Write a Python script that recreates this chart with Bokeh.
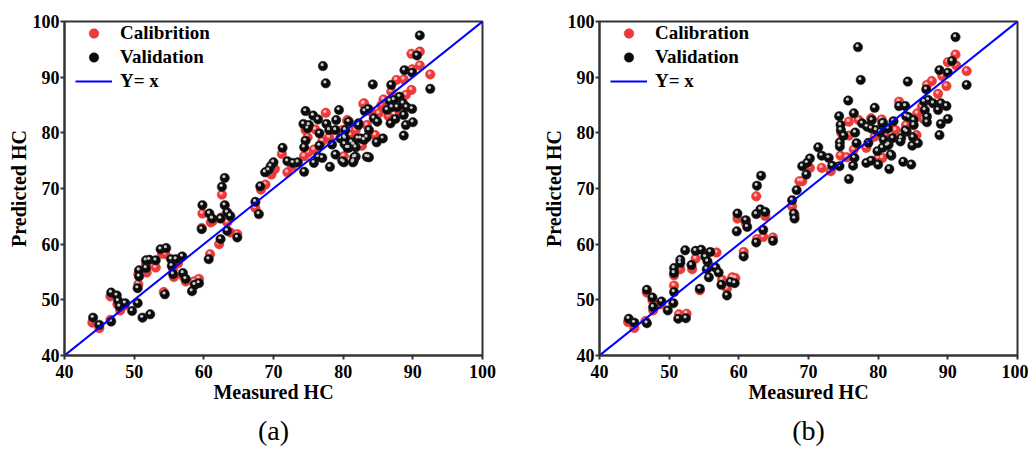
from bokeh.plotting import figure
from bokeh.layouts import row
from bokeh.models import Legend, LegendItem, Title, ColumnDataSource, FixedTicker
from bokeh.transform import dodge
from bokeh.embed import file_html
from bokeh.resources import INLINE

# ---------------- data ----------------
tick_values = [40, 50, 60, 70, 80, 90, 100]
line_x = [40, 100]
line_y = [40, 100]

# Panel (a)
a_val_x = [44.1, 45.0, 46.7, 46.7, 47.5, 47.7, 47.9, 48.7, 49.7, 50.5, 51.2, 52.3, 54.4, 50.5, 50.7,
           50.7, 51.7, 51.7, 52.2, 53.1, 53.8, 54.6, 55.3, 56.0, 56.9, 55.4, 55.6, 57.0, 57.4, 58.3,
           58.7, 59.3, 59.8, 59.7, 60.8, 61.2, 62.4, 63.0, 62.6, 63.0, 63.35, 63.8, 63.35, 62.4, 60.7,
           64.8, 67.9, 67.4, 68.1,
           77.1, 77.5, 74.6, 75.7, 76.4, 74.3, 75.1, 74.9, 77.6, 78.0, 79.0, 79.4, 78.9, 76.6, 74.4,
           74.6, 76.6, 78.4, 79.6, 80.2, 80.2, 80.8, 81.8, 81.2, 82.1, 83.0, 82.2, 80.8, 83.1, 83.6,
           75.8, 76.4, 77.0, 78.9, 78.1, 79.9, 81.5, 81.8, 83.4, 71.3, 72.0, 72.8, 73.5, 74.4, 70.0,
           69.6, 69.3, 68.8,
           91.0, 90.6, 88.8, 89.9, 84.25, 86.9, 92.5, 88.1, 86.7, 87.3, 88.6, 89.1, 89.9, 86.3, 87.0,
           87.75, 88.7, 87.5, 86.8, 89.0, 90.0, 88.7, 84.4, 84.9, 80.3, 82.2, 83.7, 82.5, 83.4, 84.8,
           85.7, 80.3, 81.5, 80.6, 81.6, 83.7, 80.1, 81.4]
a_val_y = [46.8, 45.5, 46.1, 51.3, 50.8, 49.8, 48.8, 49.4, 48.0, 49.4, 46.8, 47.4, 51.0, 52.1, 54.2,
           55.3, 55.7, 57.1, 57.2, 57.1, 59.1, 59.3, 57.3, 57.3, 57.8, 56.1, 54.6, 54.8, 53.75, 51.55,
           52.7, 53.0, 67.0, 62.7, 65.5, 64.6, 64.6, 71.9, 70.3, 67.0, 65.7, 65.05, 62.4, 60.9, 57.3,
           61.2, 65.4, 67.6, 70.4,
           92.0, 88.9, 83.9, 83.1, 82.4, 81.6, 81.4, 80.8, 81.6, 80.5, 82.3, 84.1, 80.5, 79.9, 77.4,
           78.6, 77.7, 77.9, 79.0, 79.2, 78.0, 77.3, 77.4, 78.3, 79.0, 78.75, 81.4, 82.0, 83.9, 84.3,
           74.6, 75.7, 75.5, 76.1, 73.9, 74.9, 74.9, 75.7, 75.7, 77.3, 74.9, 74.6, 74.7, 73.0, 74.7,
           74.0, 73.3, 72.9,
           97.5, 93.9, 91.25, 90.8, 88.7, 88.6, 87.9, 86.5, 85.7, 85.9, 85.3, 84.6, 84.3, 84.1, 84.6,
           84.6, 83.2, 82.5, 81.7, 81.4, 81.9, 79.5, 82.6, 82.0, 80.5, 81.7, 80.5, 79.0, 79.2, 78.3,
           79.0, 79.0, 77.9, 77.3, 75.6, 75.6, 74.7, 74.7]
a_cal_x = [44.0, 45.0, 46.6, 46.6, 47.6, 48.0, 48.6, 50.6, 50.6, 51.8, 51.7, 53.1, 54.5, 54.0, 55.6,
           56.3, 55.7, 57.4, 57.0, 59.3, 58.6, 54.25, 59.8, 59.7, 60.9, 61.0, 61.3, 62.6, 62.2, 63.35,
           63.8, 64.8, 62.5, 67.4, 68.2, 68.85,
           77.5, 80.6, 83.0, 74.6, 74.9, 75.8, 74.4, 71.2, 72.0, 69.7, 70.2, 76.0, 77.0, 79.7, 79.9,
           72.7, 75.0, 78.0,
           89.8, 91.0, 91.0, 92.5, 89.9, 87.65, 88.7, 89.8, 86.9, 89.0, 82.9, 85.5, 85.1, 80.6, 81.05,
           83.4, 80.1, 82.7, 84.6, 86.5, 88.0, 85.8, 84.0, 81.8]
a_cal_y = [45.9, 44.9, 46.4, 50.6, 49.2, 48.1, 49.0, 52.8, 54.6, 54.9, 56.4, 55.8, 58.2, 58.3, 55.6,
           56.55, 54.1, 53.3, 54.3, 53.75, 53.3, 51.4, 65.5, 62.9, 58.2, 63.9, 64.2, 68.9, 60.0, 63.9,
           62.1, 61.8, 64.8, 66.5, 69.8, 70.7,
           83.6, 82.1, 85.3, 80.5, 79.2, 77.0, 75.8, 76.2, 72.9, 72.5, 73.5, 80.6, 78.5, 75.5, 80.5,
           74.0, 76.5, 79.2,
           94.2, 94.6, 92.1, 90.5, 91.4, 89.5, 89.6, 87.7, 87.4, 86.8, 85.2, 85.0, 83.5, 82.3, 79.6,
           81.4, 75.8, 77.7, 79.6, 83.0, 84.0, 86.0, 83.8, 80.5]

# Panel (b)
b_val_x = [44.2, 45.0, 46.8, 46.8, 47.6, 47.7, 48.9, 49.8, 50.6, 50.7, 51.3, 52.4, 54.4, 50.7, 50.7,
           51.6, 51.6, 52.3, 53.2, 53.8, 54.6, 55.2, 55.9, 55.5, 55.4, 56.65, 57.1, 55.7, 57.5, 58.8,
           59.4, 58.3, 59.8, 59.7, 61.0, 61.2, 60.7, 62.5, 62.5, 63.1, 63.8, 62.6, 63.2, 63.5, 64.9,
           67.65, 67.9, 68.0, 68.3,
           77.1, 77.5, 84.25, 75.7, 79.5, 76.5, 74.4, 74.6, 74.65, 75.05, 74.5, 74.5, 76.7, 76.9, 77.7,
           78.4, 79.1, 79.0, 79.7, 80.7, 80.3, 81.4, 82.2, 78.6, 79.9, 80.6, 81.5, 80.8, 82.1, 83.0,
           84.0, 84.1, 83.3, 81.9, 81.6, 83.6, 80.0, 79.0, 78.3, 76.4, 75.8, 76.6, 74.45, 72.9, 71.9,
           71.4, 70.2, 69.8, 69.1, 69.7, 73.4,
           91.1, 90.6, 88.8, 90.0, 92.7, 86.9, 86.6, 87.2, 87.9, 89.0, 89.8, 83.9, 86.7, 88.6, 87.0,
           90.0, 84.4, 85.1, 85.1, 87.0, 89.0, 88.8, 80.6, 83.9, 83.2, 85.0, 85.7, 84.9, 81.3, 81.8,
           84.75]
b_val_y = [46.6, 45.9, 45.8, 51.8, 50.4, 48.7, 49.7, 48.1, 49.4, 51.4, 46.6, 46.7, 52.0, 55.7, 54.8,
           57.2, 56.6, 58.9, 56.25, 58.8, 59.0, 57.7, 58.6, 56.9, 55.5, 55.8, 54.9, 54.05, 52.7, 53.2,
           53.0, 50.8, 65.5, 62.3, 64.3, 63.1, 57.8, 60.3, 65.4, 66.25, 65.8, 70.5, 72.3, 62.55, 60.6,
           67.9, 65.5, 64.6, 69.7,
           95.4, 89.5, 89.2, 85.8, 84.5, 83.5, 83.0, 81.4, 80.5, 79.5, 78.3, 77.55, 80.05, 78.15, 81.7,
           81.1, 82.3, 80.8, 80.5, 81.8, 80.1, 80.8, 82.1, 78.2, 76.7, 77.3, 77.9, 78.75, 79.05, 84.8,
           83.0, 80.2, 79.05, 75.9, 73.5, 74.8, 74.3, 75.0, 74.6, 74.1, 71.7, 75.5, 74.0, 75.5, 75.9,
           77.4, 75.4, 74.6, 74.0, 72.5, 74.1,
           97.2, 92.9, 91.25, 90.8, 88.6, 87.8, 85.6, 85.9, 85.3, 85.3, 84.8, 84.8, 84.1, 84.1, 82.9,
           82.5, 82.8, 82.3, 81.4, 81.9, 81.6, 79.6, 81.7, 80.4, 78.45, 79.2, 78.15, 77.7, 77.7, 76.1,
           74.3]
b_cal_x = [44.1, 45.0, 46.8, 46.6, 47.6, 47.7, 48.8, 50.7, 50.7, 51.4, 52.5, 51.6, 53.8, 53.3, 54.4,
           56.8, 55.9, 57.6, 59.05, 59.5, 58.3, 62.5, 59.8, 60.7, 62.6, 64.9, 63.8, 61.0, 63.5, 67.65,
           68.0, 69.1,
           83.0, 75.8, 77.2, 79.0, 80.5, 74.7, 75.8, 76.5, 78.3, 79.5, 74.6, 75.5, 71.9, 70.2, 68.7,
           80.0, 73.2,
           91.1, 90.0, 91.2, 92.7, 89.2, 89.8, 87.7, 87.0, 88.6, 86.3, 85.6, 84.0, 81.05, 85.5, 80.6,
           82.5, 86.5]
b_cal_y = [46.0, 44.95, 51.3, 46.2, 49.9, 48.1, 49.2, 52.55, 54.4, 47.4, 47.5, 55.5, 57.4, 55.5, 51.7,
           58.5, 56.0, 53.6, 54.05, 53.9, 52.0, 68.6, 64.6, 58.6, 60.9, 61.2, 65.05, 63.8, 61.3, 66.8,
           65.2, 71.3,
           85.6, 82.0, 82.3, 82.6, 82.4, 80.0, 79.5, 77.0, 77.3, 79.3, 75.9, 75.6, 73.7, 73.7, 71.3,
           75.5, 73.1,
           94.05, 92.7, 92.1, 91.1, 90.2, 88.4, 89.3, 88.6, 87.0, 84.7, 83.5, 81.4, 79.3, 79.6, 75.5,
           80.5, 82.5]

FONT = "'Liberation Serif', 'Times New Roman', 'DejaVu Serif', serif"


def make_panel(cal_x, cal_y, val_x, val_y, cal_label, caption, width, bl, br, cap_offset):
    p = figure(width=width, height=453, x_range=(40, 100), y_range=(40, 100),
               output_backend="svg", toolbar_location=None,
               min_border_left=bl, min_border_right=br, min_border_top=21, min_border_bottom=96,
               background_fill_color="white", border_fill_color="white")
    p.grid.visible = False
    p.outline_line_color = "#333333"
    p.outline_line_width = 2

    for ax in (p.xaxis[0], p.yaxis[0]):
        ax.ticker = FixedTicker(ticks=tick_values)
        ax.axis_line_color = "#333333"
        ax.axis_line_width = 2
        ax.major_tick_line_color = "#333333"
        ax.major_tick_line_width = 2
        ax.major_tick_out = 4
        ax.major_tick_in = 0
        ax.minor_tick_out = 0
        ax.minor_tick_in = 0
        ax.major_label_text_font = FONT
        ax.major_label_text_font_style = "bold"
        ax.major_label_text_font_size = "18px"
        ax.major_label_text_color = "black"
        ax.axis_label_text_font = FONT
        ax.axis_label_text_font_style = "bold"
        ax.axis_label_text_font_size = "20px"
        ax.axis_label_text_color = "black"
        ax.axis_label_standoff = 0
    p.xaxis.major_label_standoff = 5
    p.yaxis.major_label_standoff = 1
    p.xaxis.axis_label = "Measured HC"
    p.yaxis.axis_label = "Predicted HC"

    cal = ColumnDataSource(dict(x=cal_x, y=cal_y))
    val = ColumnDataSource(dict(x=val_x, y=val_y))

    r_cal = p.scatter("x", "y", source=cal, size=9.5, fill_color="#f03a3a", line_color="#d82c2c",
                      line_width=0.5)
    p.scatter(x=dodge("x", -0.12), y=dodge("y", 0.25), source=cal, size=3.5,
              fill_color="#ffb4b4", line_color=None)
    r_val = p.scatter("x", "y", source=val, size=9.5, fill_color="#0b0b0b", line_color="#2a2a2a",
                      line_width=0.5)
    p.scatter(x=dodge("x", -0.12), y=dodge("y", 0.25), source=val, size=3.2,
              fill_color="#c8c8c8", line_color=None)
    r_line = p.line(line_x, line_y, line_color="#0000ff", line_width=2)

    legend = Legend(items=[LegendItem(label=cal_label, renderers=[r_cal]),
                           LegendItem(label="Validation", renderers=[r_val]),
                           LegendItem(label="Y= x", renderers=[r_line])],
                    location=(11, 262), padding=0, margin=0, spacing=0,
                    glyph_width=37, glyph_height=24, label_standoff=8,
                    label_text_font=FONT, label_text_font_style="bold",
                    label_text_font_size="19px", label_text_color="black",
                    border_line_alpha=0, background_fill_alpha=0)
    p.add_layout(legend)

    p.add_layout(Title(text=caption, align="center", text_font=FONT, text_font_style="normal",
                       text_font_size="28px", text_color="black", standoff=15,
                       offset=cap_offset), "below")
    return p


pa = make_panel(a_cal_x, a_cal_y, a_val_x, a_val_y, "Calibrition", "(a)", 530, 64, 48, -16)
pb = make_panel(b_cal_x, b_cal_y, b_val_x, b_val_y, "Calibration", "(b)", 498, 69, 11, -11)

layout = row(pa, pb)
open("out.html", "w").write(file_html(layout, INLINE))
